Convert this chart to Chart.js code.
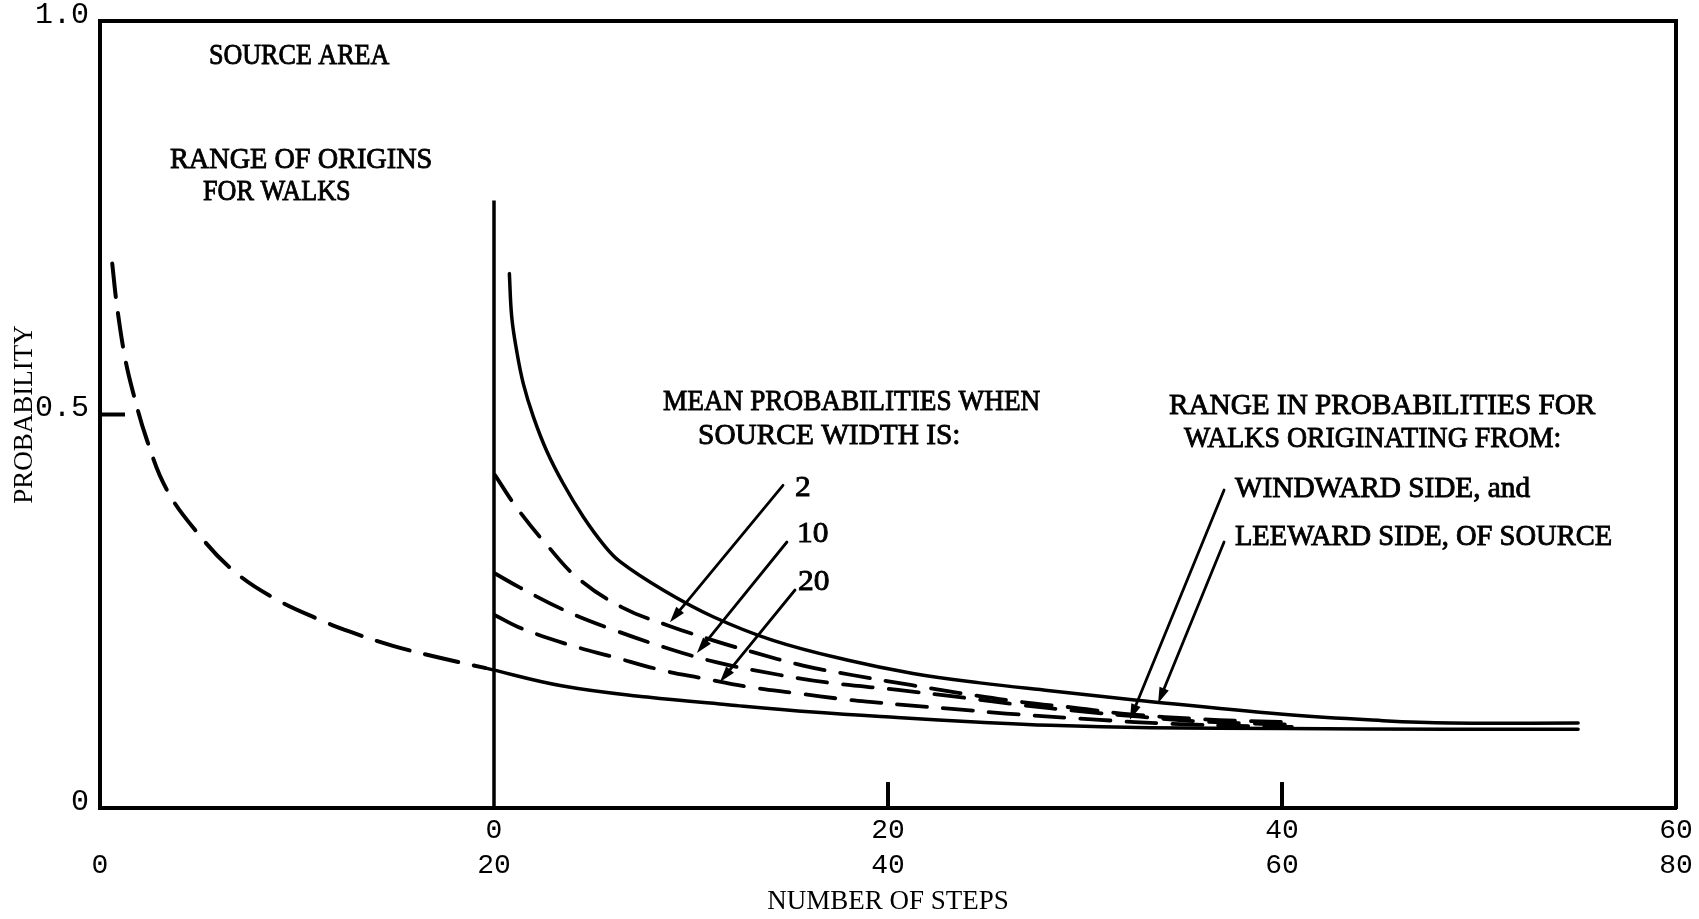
<!DOCTYPE html>
<html>
<head>
<meta charset="utf-8">
<script src="https://cdn.jsdelivr.net/npm/chart.js@4/dist/chart.umd.min.js"></script>
<style>
html,body{margin:0;padding:0;background:#fff;overflow:hidden}
#wrap{width:1699px;height:919px}
</style>
</head>
<body>
<div id="wrap"><canvas id="c" width="1699" height="919"></canvas></div>
<script>
// ---- tick labels ----
const xTickValues = [0, 20, 40, 60, 80];
const xTickRow1 = ['', '0', '20', '40', '60'];
const xTickRow2 = ['0', '20', '40', '60', '80'];
const yTickValues = [0, 0.5, 1.0];
const yTickLabels = ['0', '0.5', '1.0'];

// ---- range of origins for walks (dashed, source area) ----
const originsX = [0.62, 0.86, 1.27, 1.68, 2.39, 3.40, 4.97, 6.75, 8.88, 11.17, 12.69, 14.87, 17.41, 19.54];
const originsY = [0.692, 0.638, 0.572, 0.528, 0.467, 0.404, 0.349, 0.302, 0.266, 0.239, 0.224, 0.206, 0.190, 0.178];

// ---- range: walks from windward side (lower solid) ----
const windwardX = [19.54, 23.50, 27.77, 31.98, 36.19, 40.46, 44.67, 48.22, 53.30, 60.05, 68.53, 75.03];
const windwardY = [0.178, 0.155, 0.141, 0.131, 0.122, 0.115, 0.109, 0.105, 0.102, 0.101, 0.100, 0.100];

// ---- range: walks from leeward side (upper solid) ----
const leewardX = [20.78, 20.90, 21.15, 21.49, 22.00, 22.67, 23.52, 24.53, 25.55, 26.40, 28.58, 31.12, 34.16, 37.92, 41.27, 44.67, 48.22, 52.64, 60.05, 65.13, 68.53, 75.03];
const leewardY = [0.679, 0.624, 0.581, 0.539, 0.497, 0.454, 0.412, 0.370, 0.335, 0.313, 0.277, 0.243, 0.213, 0.188, 0.171, 0.159, 0.149, 0.137, 0.119, 0.111, 0.108, 0.108];

// ---- mean probabilities, source width 2 / 10 / 20 (dashed) ----
const mean2X = [20.05, 21.17, 22.69, 24.26, 26.50, 28.83, 31.12, 33.15, 35.69, 38.17, 41.22, 43.65, 46.70, 49.60, 52.30, 55.80, 58.90, 60.50];
const mean2Y = [0.423, 0.381, 0.334, 0.292, 0.255, 0.232, 0.213, 0.198, 0.181, 0.169, 0.156, 0.146, 0.135, 0.127, 0.119, 0.113, 0.110, 0.109];
const mean10X = [20.05, 21.32, 23.60, 25.89, 28.68, 31.32, 34.52, 37.06, 40.51, 43.91, 46.70, 49.70, 52.80, 55.80, 58.90, 60.50];
const mean10Y = [0.298, 0.280, 0.251, 0.228, 0.204, 0.185, 0.169, 0.159, 0.150, 0.140, 0.131, 0.123, 0.116, 0.110, 0.107, 0.106];
const mean20X = [20.05, 21.42, 23.86, 26.04, 28.53, 30.56, 32.89, 35.28, 37.82, 39.49, 41.22, 43.25, 46.00, 50.76, 54.30, 58.40, 60.50];
const mean20Y = [0.245, 0.228, 0.207, 0.192, 0.175, 0.165, 0.154, 0.146, 0.138, 0.134, 0.130, 0.126, 0.120, 0.112, 0.107, 0.104, 0.103];

// ---- reference lines / tick marks ----
const originLineX = [20, 20];
const originLineY = [0, 0.772];
const yMidTickX = [0, 1.27];
const yMidTickY = [0.5, 0.5];
const tick40X = [40, 40];
const tick60X = [60, 60];
const innerTickY = [0, 0.033];

// ---- annotations (data coordinates) ----
const noteTexts = ['SOURCE AREA', 'RANGE OF ORIGINS', 'FOR WALKS', 'MEAN PROBABILITIES WHEN', 'SOURCE WIDTH IS:', '2', '10', '20',
  'RANGE IN PROBABILITIES FOR', 'WALKS ORIGINATING FROM:', 'WINDWARD SIDE, and', 'LEEWARD SIDE, OF SOURCE'];
const noteX = [5.53, 3.55, 5.23, 28.58, 30.36, 35.28, 35.38, 35.43, 54.26, 55.03, 57.61, 57.61];
const noteY = [0.945, 0.813, 0.772, 0.506, 0.463, 0.397, 0.338, 0.277, 0.501, 0.459, 0.395, 0.334];

const arrowFromX = [34.67, 34.87, 35.28, 57.06, 57.06];
const arrowFromY = [0.410, 0.338, 0.277, 0.404, 0.338];
const arrowToX = [28.93, 30.30, 31.47, 52.28, 53.71];
const arrowToY = [0.236, 0.197, 0.160, 0.112, 0.133];

const PITCH = 16.4;

function pts(xs, ys) { return xs.map((x, i) => ({ x: x, y: ys[i] })); }

const INK = '#000';
function curve(data, dash, width) {
  return {
    data: data, borderColor: INK, borderWidth: width || 3.5, borderDash: dash || [],
    borderCapStyle: 'round', borderJoinStyle: 'round', pointRadius: 0, fill: false,
    tension: 0.4
  };
}
function straight(data, width) {
  return { data: data, borderColor: INK, borderWidth: width, pointRadius: 0, fill: false, tension: 0, borderCapStyle: 'butt' };
}

const annotate = {
  id: 'annotate',
  afterDatasetsDraw(chart) {
    const { ctx, scales } = chart;
    const X = scales.x, Y = scales.y;
    ctx.save();
    ctx.fillStyle = INK;
    ctx.strokeStyle = INK;
    // arrows
    for (let i = 0; i < arrowFromX.length; i++) {
      const x0 = X.getPixelForValue(arrowFromX[i]), y0 = Y.getPixelForValue(arrowFromY[i]);
      const x1 = X.getPixelForValue(arrowToX[i]), y1 = Y.getPixelForValue(arrowToY[i]);
      const ang = Math.atan2(y1 - y0, x1 - x0);
      const hl = 16, hw = 5;
      const bx = x1 - hl * Math.cos(ang), by = y1 - hl * Math.sin(ang);
      ctx.lineWidth = 2.8;
      ctx.lineCap = 'round';
      ctx.beginPath(); ctx.moveTo(x0, y0); ctx.lineTo(bx, by); ctx.stroke();
      ctx.beginPath();
      ctx.moveTo(x1, y1);
      ctx.lineTo(bx + hw * Math.sin(ang), by - hw * Math.cos(ang));
      ctx.lineTo(bx - hw * Math.sin(ang), by + hw * Math.cos(ang));
      ctx.closePath(); ctx.fill();
    }
    // texts
    ctx.font = '30px "Liberation Serif"';
    ctx.textAlign = 'left';
    ctx.textBaseline = 'alphabetic';
    noteTexts.forEach((t, i) => {
      const px = X.getPixelForValue(noteX[i]), py = Y.getPixelForValue(noteY[i]);
      const w = ctx.measureText(t).width;
      const sx = Math.min(1.05, (t.length * PITCH) / w);
      ctx.save();
      ctx.translate(px, py);
      ctx.scale(sx, 1);
      ctx.fillText(t, 0, 0);
      ctx.lineWidth = 0.9;
      ctx.strokeText(t, 0, 0);
      ctx.restore();
    });
    ctx.restore();
  }
};

new Chart(document.getElementById('c'), {
  type: 'line',
  data: {
    datasets: [
      curve(pts(originsX, originsY), [34, 16], 4),
      curve(pts(windwardX, windwardY)),
      curve(pts(leewardX, leewardY)),
      curve(pts(mean2X, mean2Y), [30, 16], 3.8),
      curve(pts(mean10X, mean10Y), [30, 16], 3.8),
      curve(pts(mean20X, mean20Y), [30, 16], 3.8),
      straight(pts(originLineX, originLineY), 3.5),
      straight(pts(yMidTickX, yMidTickY), 4),
      straight(pts(tick40X, innerTickY), 4),
      straight(pts(tick60X, innerTickY), 4)
    ]
  },
  options: {
    responsive: false,
    animation: false,
    devicePixelRatio: 1,
    layout: { padding: { top: 20, right: 23, left: 0, bottom: 0 } },
    plugins: { legend: { display: false }, tooltip: { enabled: false } },
    scales: {
      x: {
        type: 'linear', min: 0, max: 80,
        afterBuildTicks: s => { s.ticks = xTickValues.map(v => ({ value: v })); },
        ticks: {
          autoSkip: false, maxRotation: 0, color: INK, padding: -3,
          font: { family: '"Liberation Mono"', size: 28, lineHeight: 1.25 },
          callback: (v, i) => [xTickRow1[i], xTickRow2[i]]
        },
        grid: { display: false },
        border: { display: true, color: INK, width: 4 },
        title: { display: true, text: 'NUMBER OF STEPS', color: INK, font: { family: '"Liberation Serif"', size: 27 }, padding: { top: 0, bottom: 1 } },
        afterFit: s => { s.height = 111; }
      },
      y: {
        type: 'linear', min: 0, max: 1,
        afterBuildTicks: s => { s.ticks = yTickValues.map(v => ({ value: v })); },
        ticks: {
          color: INK, padding: 3, labelOffset: -6,
          font: { family: '"Liberation Mono"', size: 30 },
          callback: (v, i) => yTickLabels[i]
        },
        grid: { display: false },
        border: { display: true, color: INK, width: 4 },
        title: { display: true, text: 'PROBABILITY', color: INK, font: { family: '"Liberation Serif"', size: 27 }, padding: { top: 9, bottom: 0 } },
        afterFit: s => { s.width = 100; }
      },
      x2: {
        type: 'linear', position: 'top', min: 0, max: 80,
        ticks: { display: false }, grid: { display: false },
        border: { display: true, color: INK, width: 4 },
        afterFit: s => { s.height = 0; }
      },
      y2: {
        type: 'linear', position: 'right', min: 0, max: 1,
        ticks: { display: false }, grid: { display: false },
        border: { display: true, color: INK, width: 4 },
        afterFit: s => { s.width = 0; }
      }
    }
  },
  plugins: [annotate]
});
</script>
</body>
</html>
